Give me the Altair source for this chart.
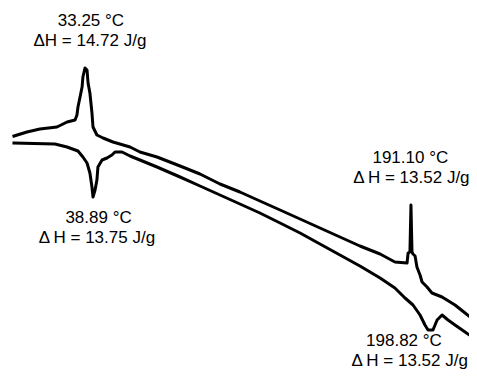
import altair as alt
import pandas as pd

# Upper trace: temperature (°C) and heat flow (arbitrary units)
upper_temp = [-2.1, 4.2, 10.5, 18.8, 23.7, 27.6, 28.5, 29.0, 31.0, 31.4, 32.4, 33.4, 33.9, 34.8,
              35.8, 36.3, 38.2, 41.2, 46.0, 54.3, 59.1, 67.4, 78.6, 88.3, 98.0, 107.7, 117.4,
              127.2, 136.9, 146.6, 156.3, 166.0, 175.8, 183.0, 188.9, 189.4, 190.3, 190.8,
              191.3, 191.8, 192.8, 193.7, 195.2, 196.2, 198.6, 201.0, 205.9, 212.2, 217.1, 221.9]
upper_flow = [23.4, 23.8, 24.1, 24.3, 24.8, 25.0, 25.5, 26.3, 28.3, 29.3, 30.2, 30.0, 28.7, 27.7,
              25.7, 24.3, 23.5, 23.2, 22.8, 22.3, 21.8, 21.3, 20.4, 19.6, 18.6, 17.8, 16.9,
              16.0, 15.1, 14.2, 13.3, 12.4, 11.6, 10.8, 10.7, 11.7, 11.8, 16.5,
              11.8, 11.6, 11.4, 10.3, 9.5, 8.8, 8.3, 7.7, 7.3, 6.5, 5.7, 4.9]

# Lower trace
lower_temp = [-2.1, 17.8, 23.7, 29.0, 31.4, 33.4, 34.8, 35.8, 36.3, 37.3, 38.2, 38.7, 40.7,
              43.1, 45.5, 47.0, 50.4, 54.3, 59.1, 67.4, 78.6, 88.3, 98.0, 107.7, 117.4, 127.2,
              136.9, 146.6, 156.3, 166.0, 175.8, 183.0, 187.9, 191.8, 195.2, 197.6, 199.1,
              201.5, 203.5, 205.9, 208.8, 212.2, 217.1, 221.9]
lower_flow = [22.7, 22.6, 22.3, 21.9, 21.3, 20.7, 19.7, 18.3, 17.3, 18.0, 19.0, 20.3, 21.0,
              21.2, 21.5, 21.8, 21.8, 21.4, 21.0, 20.3, 19.3, 18.4, 17.5, 16.6, 15.7, 14.7,
              13.7, 12.6, 11.5, 10.4, 9.2, 8.2, 7.2, 6.5, 5.5, 4.5, 4.0,
              4.0, 5.0, 5.5, 5.0, 4.5, 3.8, 3.1]

# Peak annotations
label_temp = [35.3, 34.8, 39.0, 38.2, 190.5, 191.0, 187.4, 190.2]
label_flow = [34.4, 32.4, 14.7, 12.7, 20.7, 18.7, 2.4, 0.4]
label_text = ["33.25 °C", "ΔH = 14.72 J/g",
              "38.89 °C", "Δ\u2009H = 13.75 J/g",
              "191.10 °C", "Δ\u2009H = 13.52 J/g",
              "198.82 °C", "Δ\u2009H = 13.52 J/g"]

curves = pd.concat([
    pd.DataFrame({"T": upper_temp, "HF": upper_flow, "trace": "upper",
                  "i": range(len(upper_temp))}),
    pd.DataFrame({"T": lower_temp, "HF": lower_flow, "trace": "lower",
                  "i": range(len(lower_temp))}),
])
labels = pd.DataFrame({"T": label_temp, "HF": label_flow, "text": label_text})

xs = alt.Scale(domain=[-5, 219], nice=False, zero=False)
ys = alt.Scale(domain=[0, 36.2], nice=False, zero=False)

lines = alt.Chart(curves).mark_line(
    color="black", strokeWidth=3, strokeJoin="round", strokeCap="square", clip=True
).encode(
    x=alt.X("T:Q", scale=xs, axis=None),
    y=alt.Y("HF:Q", scale=ys, axis=None),
    detail="trace:N",
    order="i:Q",
)

texts = alt.Chart(labels).mark_text(
    font="Liberation Sans", fontSize=17, color="black", align="center", baseline="alphabetic"
).encode(
    x=alt.X("T:Q", scale=xs, axis=None),
    y=alt.Y("HF:Q", scale=ys, axis=None),
    text="text:N",
)

chart = alt.layer(lines, texts).properties(
    width=461, height=362, padding=0,
    autosize=alt.AutoSizeParams(type="none"),
    background="white",
).configure_view(stroke=None)

chart.save("out.html", embed_options={"renderer": "svg", "actions": False})
